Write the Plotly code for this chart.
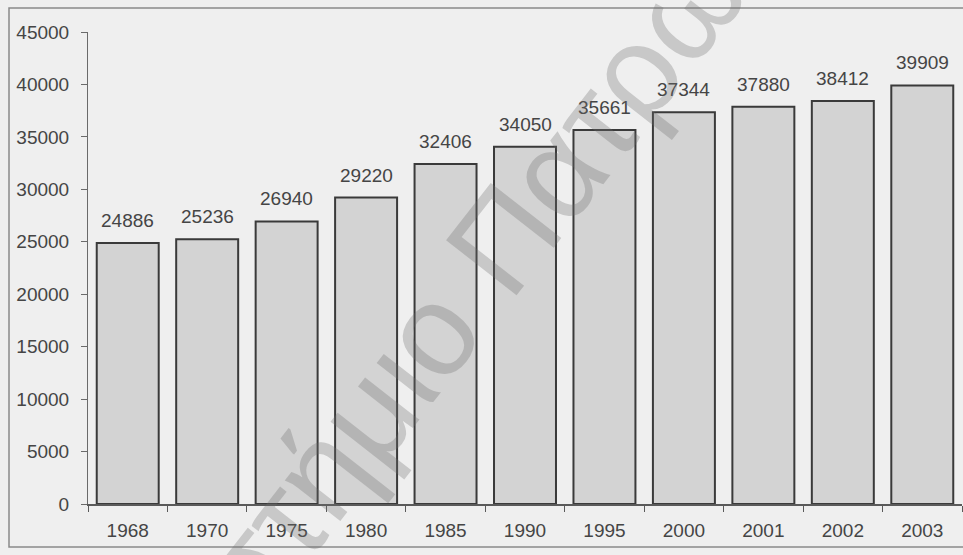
import plotly.graph_objects as go

# Yearly totals
years = ["1968", "1970", "1975", "1980", "1985", "1990", "1995", "2000", "2001", "2002", "2003"]
totals = [24886, 25236, 26940, 29220, 32406, 34050, 35661, 37344, 37880, 38412, 39909]
y_ticks = [0, 5000, 10000, 15000, 20000, 25000, 30000, 35000, 40000, 45000]

W, H = 963, 555
ML, MR, MT, MB = 88, 1, 32, 51
FONT = "Arial, Liberation Sans, sans-serif"
TEXT_COL = "#454545"

fig = go.Figure()
fig.add_trace(go.Bar(
    x=years,
    y=totals,
    marker=dict(color="#d3d3d3", line=dict(color="#3a3a3a", width=2)),
    width=0.78,
    hoverinfo="x+y",
))

# value labels above each bar (category index positions)
for i, v in enumerate(totals):
    fig.add_annotation(
        x=i, y=v, text=str(v), showarrow=False,
        xanchor="center", yanchor="bottom", yshift=10,
        font=dict(family=FONT, size=19, color=TEXT_COL),
    )

# faint diagonal watermark
pw = W - ML - MR
ph = H - MT - MB
fig.add_annotation(
    xref="paper", yref="paper",
    x=(362 - ML) / pw, y=(H - MB - 420) / ph,
    text="Πανεπιστήμιο Πατρών", showarrow=False,
    textangle=-52, xanchor="center", yanchor="middle",
    font=dict(family=FONT, size=130, color="rgba(110,110,110,0.30)"),
)

# outer chart frame
fig.add_shape(
    type="rect", xref="paper", yref="paper",
    x0=(9 - ML) / pw, x1=(990 - ML) / pw,
    y0=(H - MB - 547) / ph, y1=(H - MB - 8) / ph,
    line=dict(color="#8a8a8a", width=1.5), fillcolor="rgba(0,0,0,0)",
    layer="below",
)

fig.update_layout(
    width=W, height=H,
    margin=dict(l=ML, r=MR, t=MT, b=MB, pad=0),
    paper_bgcolor="#efefef",
    plot_bgcolor="#efefef",
    showlegend=False,
    font=dict(family=FONT, size=19, color=TEXT_COL),
    bargap=0.22,
)
fig.update_xaxes(
    type="category",
    range=[-0.5, len(years) - 0.5],
    autorange=False,
    showgrid=False, zeroline=False,
    showline=True, linecolor="#5a5a5a", linewidth=1.5,
    ticks="outside", ticklen=6, tickcolor="#5a5a5a", tickson="boundaries",
    tickangle=0,
    tickfont=dict(family=FONT, size=19, color=TEXT_COL),
    ticklabelstandoff=8,
    fixedrange=True,
)
fig.update_yaxes(
    range=[0, 45000],
    autorange=False,
    tickvals=y_ticks,
    ticktext=[str(t) for t in y_ticks],
    showgrid=False, zeroline=False,
    showline=True, linecolor="#6a6a6a", linewidth=1,
    ticks="outside", ticklen=6, tickcolor="#6a6a6a",
    tickfont=dict(family=FONT, size=19, color=TEXT_COL),
    ticklabelstandoff=8,
    fixedrange=True,
)

fig.write_html("out.html", config={"displayModeBar": False})
